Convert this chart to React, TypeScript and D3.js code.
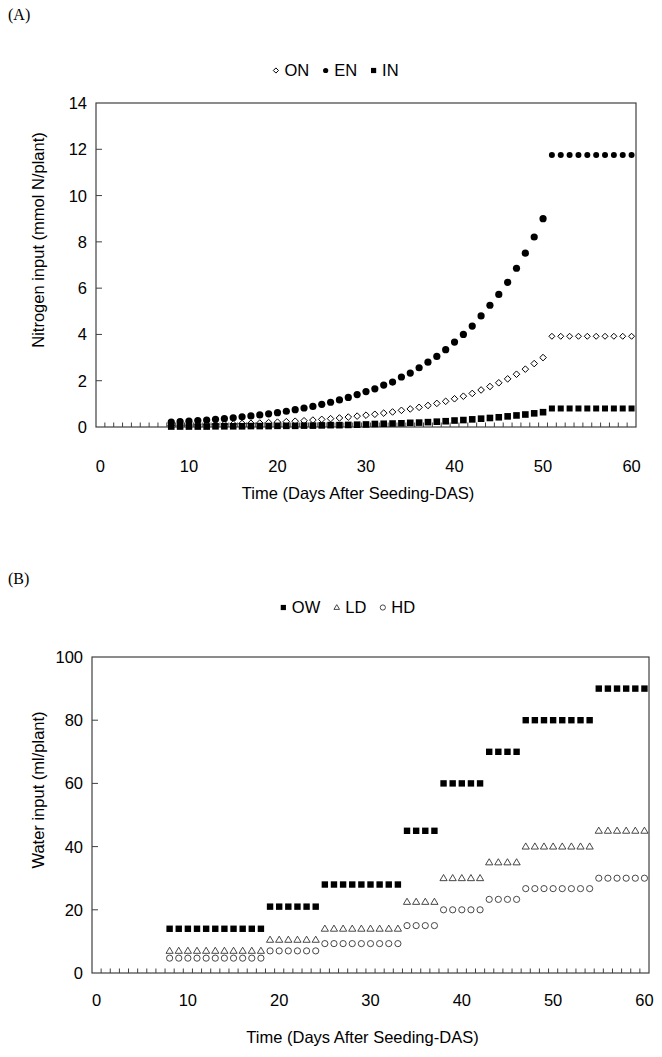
import * as d3 from "d3";

// x categories (days after seeding) that carry data
const DAYS = [
  8, 9, 10, 11, 12, 13, 14, 15, 16, 17, 18, 19, 20, 21, 22, 23, 24, 25, 26, 27,
  28, 29, 30, 31, 32, 33, 34, 35, 36, 37, 38, 39, 40, 41, 42, 43, 44, 45, 46,
  47, 48, 49, 50, 51, 52, 53, 54, 55, 56, 57, 58, 59, 60,
];
const X_LABELS = [0, 10, 20, 30, 40, 50, 60];

// (A) nitrogen input, mmol N/plant
const ON = [
  0.07, 0.08, 0.08, 0.09, 0.1, 0.11, 0.12, 0.13, 0.15, 0.16, 0.17, 0.19, 0.21,
  0.23, 0.25, 0.27, 0.3, 0.33, 0.36, 0.39, 0.43, 0.47, 0.51, 0.55, 0.6, 0.65,
  0.72, 0.78, 0.85, 0.93, 1.02, 1.11, 1.22, 1.33, 1.45, 1.6, 1.75, 1.91, 2.08,
  2.28, 2.5, 2.74, 3.0, 3.92, 3.92, 3.92, 3.92, 3.92, 3.92, 3.92, 3.92, 3.92,
  3.92,
];
const EN = [
  0.21, 0.23, 0.25, 0.28, 0.3, 0.33, 0.36, 0.4, 0.44, 0.48, 0.52, 0.57, 0.62,
  0.68, 0.75, 0.82, 0.89, 0.98, 1.07, 1.17, 1.28, 1.4, 1.53, 1.65, 1.81, 1.94,
  2.16, 2.33, 2.56, 2.8, 3.05, 3.34, 3.67, 4.0, 4.36, 4.8, 5.26, 5.73, 6.25,
  6.86, 7.51, 8.21, 9.0, 11.75, 11.75, 11.75, 11.75, 11.75, 11.75, 11.75, 11.75,
  11.75, 11.75,
];
const IN = [
  0.02, 0.02, 0.02, 0.02, 0.02, 0.03, 0.03, 0.03, 0.03, 0.04, 0.04, 0.04, 0.05,
  0.05, 0.05, 0.06, 0.06, 0.07, 0.08, 0.08, 0.09, 0.1, 0.11, 0.13, 0.14, 0.15,
  0.16, 0.18, 0.19, 0.21, 0.23, 0.25, 0.28, 0.3, 0.33, 0.36, 0.39, 0.42, 0.46,
  0.5, 0.54, 0.59, 0.64, 0.8, 0.8, 0.8, 0.8, 0.8, 0.8, 0.8, 0.8, 0.8, 0.8,
];
const N_TICKS = [0, 2, 4, 6, 8, 10, 12, 14];

// (B) water input, ml/plant
const OW = [
  14, 14, 14, 14, 14, 14, 14, 14, 14, 14, 14, 21, 21, 21, 21, 21, 21, 28, 28,
  28, 28, 28, 28, 28, 28, 28, 45, 45, 45, 45, 60, 60, 60, 60, 60, 70, 70, 70,
  70, 80, 80, 80, 80, 80, 80, 80, 80, 90, 90, 90, 90, 90, 90,
];
const LD = [
  7, 7, 7, 7, 7, 7, 7, 7, 7, 7, 7, 10.5, 10.5, 10.5, 10.5, 10.5, 10.5, 14, 14,
  14, 14, 14, 14, 14, 14, 14, 22.5, 22.5, 22.5, 22.5, 30, 30, 30, 30, 30, 35,
  35, 35, 35, 40, 40, 40, 40, 40, 40, 40, 40, 45, 45, 45, 45, 45, 45,
];
const HD = [
  4.7, 4.7, 4.7, 4.7, 4.7, 4.7, 4.7, 4.7, 4.7, 4.7, 4.7, 7, 7, 7, 7, 7, 7, 9.3,
  9.3, 9.3, 9.3, 9.3, 9.3, 9.3, 9.3, 9.3, 15, 15, 15, 15, 20, 20, 20, 20, 20,
  23.3, 23.3, 23.3, 23.3, 26.7, 26.7, 26.7, 26.7, 26.7, 26.7, 26.7, 26.7, 30,
  30, 30, 30, 30, 30,
];
const W_TICKS = [0, 20, 40, 60, 80, 100];

const FONT = "Liberation Sans, Arial, sans-serif";
const AXIS = "#404040";

type Shape = "diamond" | "circle" | "square" | "triangle" | "ring";

function Marker({ shape, x, y, s }: { shape: Shape; x: number; y: number; s: number }) {
  if (shape === "circle") return <circle cx={x} cy={y} r={s} fill="#000" />;
  if (shape === "ring")
    return <circle cx={x} cy={y} r={s} fill="#fff" stroke="#333" strokeWidth={0.9} />;
  if (shape === "square")
    return <rect x={x - s} y={y - s} width={s * 2} height={s * 2} fill="#000" />;
  if (shape === "diamond")
    return (
      <path
        d={`M${x},${y - s}L${x + s},${y}L${x},${y + s}L${x - s},${y}Z`}
        fill="#fff"
        stroke="#000"
        strokeWidth={1}
      />
    );
  const h = s * 1.7;
  return (
    <path
      d={`M${x},${y - h * 0.6}L${x + s},${y + h * 0.4}L${x - s},${y + h * 0.4}Z`}
      fill="#fff"
      stroke="#333"
      strokeWidth={0.9}
    />
  );
}

interface Series {
  name: string;
  values: number[];
  shape: Shape;
  size: number;
  flatSize?: number;
  legendSize: number;
}

// rough Arial advance widths, per em
const CHAR_W: Record<string, number> = { O: 0.778, N: 0.722, E: 0.667, I: 0.278, W: 0.944, L: 0.556, D: 0.722, H: 0.722 };

function Panel({
  tag,
  tagY,
  left,
  right,
  top,
  bottom,
  yMax,
  yTicks,
  yTitle,
  yTitleY,
  series,
  legendY,
  legendCx,
  xLabelY,
  xTitleY,
}: {
  tag: string;
  tagY: number;
  left: number;
  right: number;
  top: number;
  bottom: number;
  yMax: number;
  yTicks: number[];
  yTitle: string;
  yTitleY: number;
  series: Series[];
  legendY: number;
  legendCx: number;
  xLabelY: number;
  xTitleY: number;
}) {
  const x = d3.scaleLinear().domain([-0.5, 60.5]).range([left, right]);
  const y = d3.scaleLinear().domain([0, yMax]).range([bottom, top]);
  const minor = d3.range(0.5, 60, 1);

  // legend layout: marker, space, label, double space
  const fs = 16.5;
  const widths = series.map((s) =>
    s.name.split("").reduce((a, c) => a + (CHAR_W[c] ?? 0.6) * fs, 0),
  );
  const total = widths.reduce((a, w) => a + 11 + w, 0) + 14 * (series.length - 1);
  let lx = legendCx - total / 2;
  const legendItems = series.map((s, i) => {
    const item = { s, mx: lx + 2.5, tx: lx + 11 };
    lx += 11 + widths[i] + 14;
    return item;
  });

  return (
    <g fontFamily={FONT}>
      <text x={8} y={tagY} fontFamily="Liberation Serif, Times New Roman, serif" fontSize={16}>
        {tag}
      </text>

      {legendItems.map(({ s, mx, tx }) => (
        <g key={s.name}>
          <Marker shape={s.shape} x={mx} y={legendY - 5.5} s={s.legendSize} />
          <text x={tx} y={legendY} fontSize={fs}>
            {s.name}
          </text>
        </g>
      ))}

      {/* plot frame */}
      <rect
        x={left}
        y={top}
        width={right - left}
        height={bottom - top}
        fill="none"
        stroke={AXIS}
        strokeWidth={1.2}
      />

      {/* x minor ticks between categories */}
      {minor.map((m) => (
        <line
          key={m}
          x1={x(m)}
          x2={x(m)}
          y1={bottom}
          y2={bottom - 4.5}
          stroke={AXIS}
          strokeWidth={1}
        />
      ))}
      {X_LABELS.map((d) => (
        <text key={d} x={x(d)} y={xLabelY} fontSize={fs} textAnchor="middle">
          {d}
        </text>
      ))}
      <text x={(left + right) / 2 - 8} y={xTitleY} fontSize={fs} textAnchor="middle">
        Time (Days After Seeding-DAS)
      </text>

      {/* y ticks */}
      {yTicks.map((t) => (
        <g key={t}>
          {t > 0 && t < yMax && (
            <line x1={left} x2={left + 6} y1={y(t)} y2={y(t)} stroke={AXIS} strokeWidth={1} />
          )}
          <text x={left - 9} y={y(t) + 6} fontSize={fs} textAnchor="end">
            {t}
          </text>
        </g>
      ))}
      <text
        transform={`translate(44,${yTitleY}) rotate(-90)`}
        fontSize={fs}
        textAnchor="middle"
      >
        {yTitle}
      </text>

      {/* data */}
      {series.map((s) => (
        <g key={s.name}>
          {s.values.map((v, i) => (
            <Marker
              key={i}
              shape={s.shape}
              x={x(DAYS[i])}
              y={y(v)}
              s={s.flatSize && DAYS[i] > 50 ? s.flatSize : s.size}
            />
          ))}
        </g>
      ))}
    </g>
  );
}

export default function App() {
  const nSeries: Series[] = [
    { name: "ON", values: ON, shape: "diamond", size: 3.3, flatSize: 3, legendSize: 2.6 },
    { name: "EN", values: EN, shape: "circle", size: 3.6, flatSize: 3, legendSize: 2.6 },
    { name: "IN", values: IN, shape: "square", size: 3.3, flatSize: 3, legendSize: 2.6 },
  ];
  const wSeries: Series[] = [
    { name: "OW", values: OW, shape: "square", size: 3.2, legendSize: 2.6 },
    { name: "LD", values: LD, shape: "triangle", size: 3.6, legendSize: 2.8 },
    { name: "HD", values: HD, shape: "ring", size: 3.1, legendSize: 2.6 },
  ];
  return (
    <svg
      width={662}
      height={1057}
      viewBox="0 0 662 1057"
      style={{ position: "absolute", left: 0, top: 0, background: "#fff" }}
    >
      <rect width={662} height={1057} fill="#fff" />
      <Panel
        tag="(A)"
        tagY={20}
        left={96}
        right={636}
        top={103}
        bottom={427}
        yMax={14}
        yTicks={N_TICKS}
        yTitle="Nitrogen input (mmol N/plant)"
        yTitleY={240}
        series={nSeries}
        legendY={76}
        legendCx={336}
        xLabelY={472}
        xTitleY={499}
      />
      <Panel
        tag="(B)"
        tagY={584}
        left={92}
        right={649}
        top={657}
        bottom={973}
        yMax={100}
        yTicks={W_TICKS}
        yTitle="Water input (ml/plant)"
        yTitleY={790}
        series={wSeries}
        legendY={613}
        legendCx={348}
        xLabelY={1006}
        xTitleY={1043}
      />
    </svg>
  );
}
